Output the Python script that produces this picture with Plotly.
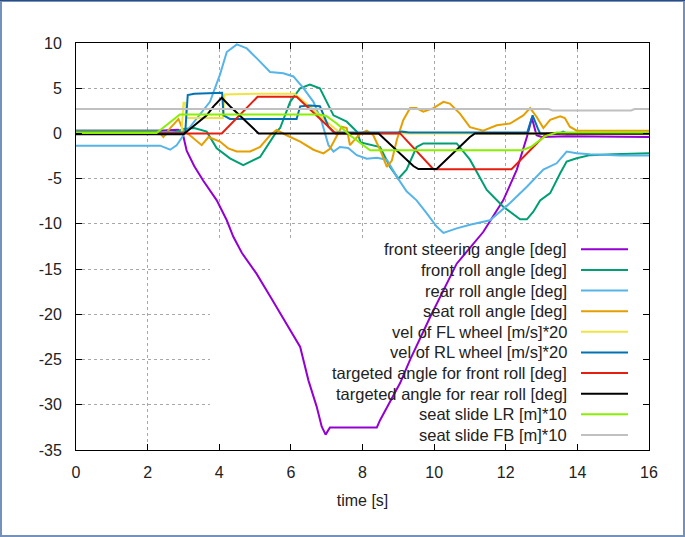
import plotly.graph_objects as go

# ---------------- data ----------------
steer_t = [0, 2.3, 2.85, 2.98, 3.09, 3.3, 3.55, 3.93, 4.21, 4.39, 4.63, 5.04, 5.42, 5.98, 6.26, 6.49, 6.72, 6.86, 6.97, 7.09, 8.40, 8.49, 9.05, 9.33, 9.89, 10.63, 11.37, 11.93, 12.31, 12.59, 12.73, 12.86, 13.0, 13.7, 16]
steer_v = [0.3, 0.3, 0.4, 0.0, -1.9, -3.6, -5.2, -7.4, -9.6, -11.4, -13.2, -15.5, -18.0, -21.7, -23.6, -27.3, -30.2, -32.4, -33.3, -32.5, -32.5, -31.7, -27.6, -25.0, -20.3, -14.4, -10.9, -7.4, -4.0, -0.4, 1.7, -0.2, -0.4, -0.3, -0.4]

froll_t = [0, 2.3, 2.5, 2.8, 3.0, 3.3, 3.65, 3.93, 4.30, 4.67, 5.14, 5.60, 5.70, 5.98, 6.26, 6.53, 6.81, 7.05, 7.19, 7.56, 7.84, 7.95, 8.2, 8.49, 8.77, 9.0, 9.23, 9.51, 9.70, 10.63, 11.0, 11.47, 11.93, 12.40, 12.59, 12.77, 12.96, 13.24, 13.52, 13.70, 13.98, 14.35, 15.0, 16]
froll_v = [0.3, 0.3, -0.1, 0.2, 0.5, 0.6, 0.2, -1.65, -2.75, -3.5, -2.6, 0.2, 0.6, 3.5, 5.0, 5.4, 5.0, 3.1, 2.0, 1.3, 0.2, -1.0, -1.2, -1.5, -3.7, -5.0, -4.0, -1.5, -1.1, -1.1, -2.9, -6.25, -8.1, -9.5, -9.5, -8.65, -7.4, -6.6, -4.4, -3.1, -2.75, -2.4, -2.3, -2.2]

rroll_t = [0, 2.35, 2.63, 2.81, 3.0, 3.2, 3.46, 3.74, 4.02, 4.21, 4.49, 4.77, 5.05, 5.42, 5.79, 6.07, 6.35, 6.63, 6.86, 7.05, 7.19, 7.37, 7.6, 7.84, 8.12, 8.40, 8.68, 8.96, 9.23, 9.51, 9.79, 10.07, 10.26, 10.63, 11.0, 11.56, 12.12, 12.59, 13.05, 13.42, 13.70, 13.98, 14.35, 15.2, 16]
rroll_v = [-1.35, -1.35, -1.8, -1.3, -0.2, 0.8, 2.0, 3.5, 6.5, 9.0, 9.85, 9.4, 8.3, 6.8, 6.65, 6.3, 5.0, 3.5, 1.3, -1.3, -2.0, -1.5, -1.6, -2.4, -2.8, -2.7, -2.9, -4.8, -6.4, -7.4, -8.8, -10.3, -11.0, -10.5, -10.1, -9.6, -7.7, -5.9, -4.0, -3.3, -2.0, -2.2, -2.3, -2.45, -2.45]

seat_t = [0, 2.3, 2.44, 2.63, 2.86, 3.0, 3.18, 3.51, 3.70, 4.02, 4.25, 4.49, 4.86, 5.14, 5.42, 5.60, 5.88, 6.26, 6.63, 6.91, 7.09, 7.28, 7.42, 7.56, 7.65, 7.8, 7.95, 8.12, 8.30, 8.49, 8.68, 8.82, 8.96, 9.14, 9.33, 9.5, 9.7, 9.98, 10.26, 10.44, 10.72, 11.0, 11.37, 11.75, 12.12, 12.49, 12.68, 12.86, 13.05, 13.24, 13.52, 13.65, 13.79, 13.98, 16]
seat_v = [0.2, 0.2, -0.4, 0.6, 1.6, 0.3, -0.2, -1.3, -0.4, -0.9, -1.65, -2.0, -2.0, -1.5, -0.2, 0.4, -0.2, -0.9, -1.8, -2.2, -1.7, -0.2, 0.75, 0.6, -1.3, -0.6, 0.0, 0.3, -0.2, -1.8, -3.7, -3.0, -0.7, 1.5, 2.8, 2.8, 2.4, 2.8, 3.5, 3.3, 2.2, 0.7, 0.3, 0.9, 1.1, 2.0, 2.8, 1.85, 0.6, 1.5, 1.9, 1.7, 0.75, 0.3, 0.3]

velfl_t = [0, 2.95, 3.0, 3.05, 3.08, 4.1, 4.15, 5.0, 6.1, 6.5, 7.0, 7.4, 16]
velfl_v = [0.1, 0.1, 3.4, 3.4, 1.7, 1.7, 4.3, 4.4, 4.4, 3.1, 1.3, 0.0, 0.0]

velrl_t = [0, 3.05, 3.12, 3.3, 4.08, 4.12, 4.3, 6.16, 6.26, 6.53, 6.81, 6.91, 7.05, 7.2, 9.0, 9.1, 9.3, 12.6, 12.75, 12.9, 12.96, 13.5, 13.6, 13.7, 16]
velrl_v = [0.1, 0.1, 4.25, 4.4, 4.5, 2.0, 1.6, 1.6, 3.0, 3.1, 3.0, 2.0, 0.75, 0.1, 0.1, 0.2, 0.1, 0.1, 2.0, 0.5, 0.0, 0.0, 0.2, 0.0, 0.0]

ftgt_t = [0, 4.07, 5.07, 6.16, 7.25, 9.05, 9.98, 12.16, 13.14, 16]
ftgt_v = [0, 0, 4.05, 4.05, 0, 0, -3.95, -3.95, 0, 0]

rtgt_t = [0, 3.0, 3.37, 3.65, 3.84, 4.07, 4.30, 4.58, 4.86, 5.1, 8.45, 9.42, 9.56, 10.07, 10.63, 11.0, 11.14, 16]
rtgt_v = [-0.1, -0.1, 1.1, 2.0, 3.0, 3.95, 3.0, 2.0, 0.9, 0, 0, -3.6, -3.93, -3.93, -1.8, -0.4, 0, 0]

slr_t = [0, 2.25, 2.9, 6.8, 7.0, 7.28, 7.65, 8.02, 8.21, 12.45, 12.7, 13.1, 13.42, 16]
slr_v = [0.05, 0.05, 2.1, 2.1, 1.9, 1.1, -0.2, -1.3, -1.85, -1.85, -1.5, -0.3, 0.1, 0.1]

sfb_t = [0, 13.2, 13.3, 15.5, 15.6, 16]
sfb_v = [2.7, 2.7, 2.55, 2.55, 2.7, 2.7]

names = ["front steering angle [deg]", "front roll angle [deg]", "rear roll angle [deg]",
         "seat roll angle [deg]", "vel of FL wheel [m/s]*20", "vel of RL wheel [m/s]*20",
         "targeted angle for front roll [deg]", "targeted angle for rear roll [deg]",
         "seat slide LR [m]*10", "seat slide FB [m]*10"]
colors = ["#9400D3", "#009E73", "#56B4E9", "#E69F00", "#F0E442", "#0072B2",
          "#E51E10", "#000000", "#88F000", "#C0C0C0"]
series = [(steer_t, steer_v), (froll_t, froll_v), (rroll_t, rroll_v), (seat_t, seat_v),
          (velfl_t, velfl_v), (velrl_t, velrl_v), (ftgt_t, ftgt_v), (rtgt_t, rtgt_v),
          (slr_t, slr_v), (sfb_t, sfb_v)]

x_ticks = [0, 2, 4, 6, 8, 10, 12, 14, 16]
x_ticktext = ["0", "2", "4", "6", "8", "10", "12", "14", "16"]
y_ticks = [10, 5, 0, -5, -10, -15, -20, -25, -30, -35]
y_ticktext = ["10", "5", "0", "-5", "-10", "-15", "-20", "-25", "-30", "-35"]

# ---------------- figure ----------------
W, H = 685, 537
L, R, T, B = 76, 36, 43, 87
pw, ph = W - L - R, H - T - B
FONT = "Liberation Sans, Arial, sans-serif"

def px(x):
    return (x - L) / pw

def py(y):
    return (H - B - y) / ph

fig = go.Figure()
for (t, v), n, c in zip(series, names, colors):
    fig.add_trace(go.Scatter(x=t, y=v, mode="lines", name=n,
                             line=dict(color=c, width=2), showlegend=False))

shapes = []
annotations = []
# white key background hiding the grid
shapes.append(dict(type="rect", xref="x", yref="y", x0=3.74, x1=16, y0=-35, y1=-11.78,
                   fillcolor="white", line=dict(width=0), layer="between"))
# custom key: text right-aligned, sample on the right
for i, (n, c) in enumerate(zip(names, colors)):
    yy = py(249.3 + 20.63 * i)
    annotations.append(dict(xref="paper", yref="paper", x=px(569), y=yy, text=n,
                            showarrow=False, xanchor="right", yanchor="middle",
                            font=dict(family=FONT, size=16.5, color="#222")))
    shapes.append(dict(type="line", xref="paper", yref="paper", x0=px(581), x1=px(628),
                       y0=yy, y1=yy, line=dict(color=c, width=2)))
# outer frame of the picture
shapes.append(dict(type="rect", xref="paper", yref="paper",
                   x0=px(1), x1=px(684), y0=py(536), y1=py(1),
                   line=dict(color="#7391BA", width=2), fillcolor="rgba(0,0,0,0)"))
shapes.append(dict(type="line", xref="paper", yref="paper", x0=px(0), x1=px(685),
                   y0=py(0.5), y1=py(0.5), line=dict(color="#2B4C7E", width=1)))

axis_common = dict(showgrid=True, gridcolor="#A8A8A8", griddash="dot", gridwidth=1,
                   ticks="inside", ticklen=6, tickcolor="black", tickwidth=1,
                   mirror="allticks", showline=True, linecolor="black", linewidth=1,
                   zeroline=False, tickfont=dict(family=FONT, size=16, color="#222"))

fig.update_layout(
    width=W, height=H, margin=dict(l=L, r=R, t=T, b=B),
    plot_bgcolor="white", paper_bgcolor="white",
    xaxis=dict(range=[0, 16], tickmode="array", tickvals=x_ticks, ticktext=x_ticktext,
               ticklabelstandoff=8,
               title=dict(text="time [s]", font=dict(family=FONT, size=16, color="#222"),
                          standoff=14),
               **axis_common),
    yaxis=dict(range=[-35, 10], tickmode="array", tickvals=y_ticks, ticktext=y_ticktext,
               ticklabelstandoff=10, **axis_common),
    shapes=shapes, annotations=annotations,
    font=dict(family=FONT, size=16, color="#222"),
)

fig.write_html("out.html", config={"displayModeBar": False},
               post_script="document.body.style.margin='0';document.body.style.overflow='hidden';")
